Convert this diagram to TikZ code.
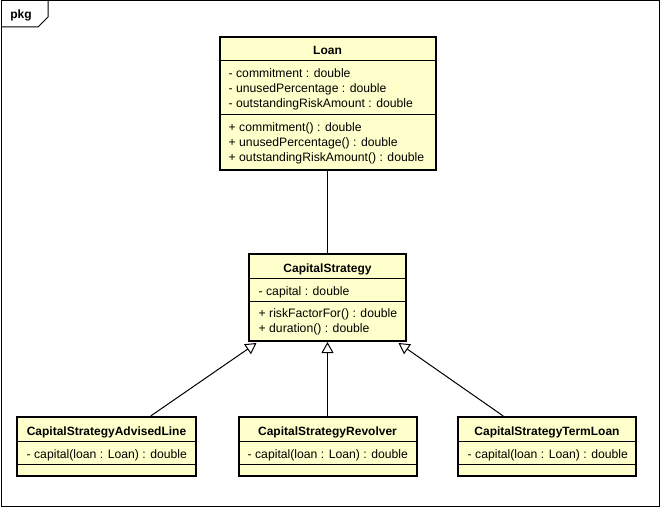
\documentclass[tikz,border=0pt]{standalone}
\usepackage{fontspec}
\setmainfont{Liberation Sans}
\usetikzlibrary{arrows.meta}
\definecolor{classfill}{HTML}{FFFFCC}
\begin{document}
\begin{tikzpicture}[x=1pt,y=-1pt,
  classbox/.style={draw=black, line width=2pt, fill=classfill, inner sep=0pt},
  compline/.style={line width=1pt},
  classname/.style={font=\bfseries\fontsize{12}{14}\selectfont, anchor=base, inner sep=0pt},
  member/.style={font=\fontsize{12.2}{14}\selectfont, anchor=base west, inner sep=0pt},
  assoc/.style={line width=1pt},
  generalization/.style={line width=1pt, -{Triangle[open, length=11pt, width=12pt, line width=1pt]}},
  framebox/.style={line width=1pt}
]
\useasboundingbox (0,0) rectangle (663,510);
\fill[white] (0,0) rectangle (663,510);

% package frame with its name tab
\draw[framebox] (1,1) rectangle (659,506);
\draw[framebox] (1,27) -- (38,27) -- (48,17) -- (48,1);
\node[classname] (pkg) at (21,19) {pkg};

% Loan
\node[classbox, minimum width=216pt, minimum height=133pt] (loan) at (327.5,103.5) {};
\draw[compline] ([yshift=-25pt]loan.north west) -- ([yshift=-25pt]loan.north east);
\draw[compline] ([yshift=-78.5pt]loan.north west) -- ([yshift=-78.5pt]loan.north east);
\node[classname] (loanname) at (327.5,54.5) {Loan};
\node[member] (loana1) at (228.5,77.5) {- commitment : double};
\node[member] (loana2) at (228.5,92.5) {- unusedPercentage : double};
\node[member] (loana3) at (228.5,107.5) {- outstandingRiskAmount : double};
\node[member] (loano1) at (228.5,131.5) {+ commitment() : double};
\node[member] (loano2) at (228.5,146.5) {+ unusedPercentage() : double};
\node[member] (loano3) at (228.5,161.5) {+ outstandingRiskAmount() : double};

% CapitalStrategy
\node[classbox, minimum width=157pt, minimum height=87pt] (cs) at (327.5,297.5) {};
\draw[compline] ([yshift=-26pt]cs.north west) -- ([yshift=-26pt]cs.north east);
\draw[compline] ([yshift=-48pt]cs.north west) -- ([yshift=-48pt]cs.north east);
\node[classname] (csname) at (327.5,272.5) {CapitalStrategy};
\node[member] (csa1) at (258.5,295.5) {- capital : double};
\node[member] (cso1) at (258.5,317.5) {+ riskFactorFor() : double};
\node[member] (cso2) at (258.5,332.5) {+ duration() : double};

% subclasses
\node[classbox, minimum width=179pt, minimum height=59pt] (adv) at (106.5,446.5) {};
\node[classbox, minimum width=178pt, minimum height=59pt] (rev) at (327.5,446.5) {};
\node[classbox, minimum width=178pt, minimum height=59pt] (term) at (547,446.5) {};
\foreach \c in {adv,rev,term}{
  \draw[compline] ([yshift=-25pt]\c.north west) -- ([yshift=-25pt]\c.north east);
  \draw[compline] ([yshift=-48pt]\c.north west) -- ([yshift=-48pt]\c.north east);
}
\node[classname] (advname) at (106.5,435.5) {CapitalStrategyAdvisedLine};
\node[member] (adva1) at (26.5,458.5) {- capital(loan : Loan) : double};
\node[classname] (revname) at (327.5,435.5) {CapitalStrategyRevolver};
\node[member] (reva1) at (247.5,458.5) {- capital(loan : Loan) : double};
\node[classname] (termname) at (547,435.5) {CapitalStrategyTermLoan};
\node[member] (terma1) at (467.5,458.5) {- capital(loan : Loan) : double};

% relations
\draw[assoc] (loan) -- (cs);
\draw[generalization] (adv) -- ([xshift=-71pt,yshift=-1pt]cs.south);
\draw[generalization] (rev) -- (cs);
\draw[generalization] (term) -- ([xshift=71pt,yshift=-1pt]cs.south);
\end{tikzpicture}
\end{document}
